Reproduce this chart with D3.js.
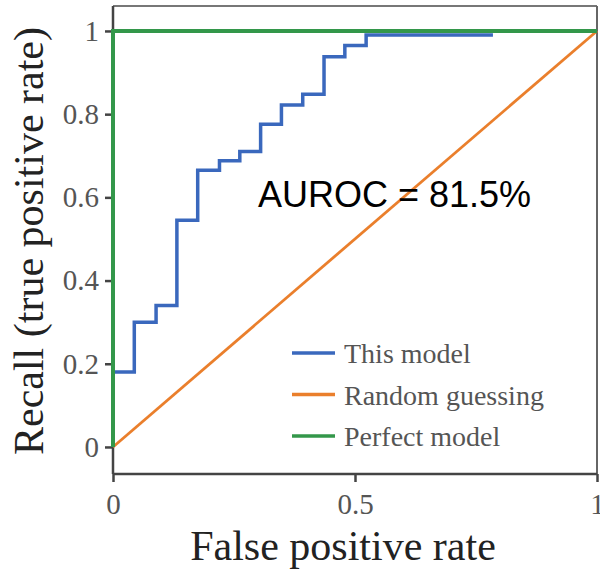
<!DOCTYPE html>
<html>
<head>
<meta charset="utf-8">
<script src="https://cdn.jsdelivr.net/npm/d3@7"></script>
<style>
  html, body { margin: 0; padding: 0; background: #fff; }
</style>
</head>
<body>
<div id="chart"></div>
<script>
// ROC curve (false positive rate, recall)
var modelFpr    = [0, 0,    0.044, 0.089, 0.132, 0.175, 0.220, 0.262, 0.305, 0.348, 0.392, 0.436, 0.479, 0.523, 0.785];
var modelTpr    = [0, 0.18, 0.30,  0.34,  0.545, 0.665, 0.688, 0.71,  0.776, 0.822, 0.848, 0.938, 0.965, 0.99,  0.99];
var randomFpr   = [0, 1];
var randomTpr   = [0, 1];
var perfectFpr  = [0, 0, 1];
var perfectTpr  = [0, 1, 1];
var xTicks = [0, 0.5, 1];
var yTicks = [0, 0.2, 0.4, 0.6, 0.8, 1];
var seriesNames = ['This model', 'Random guessing', 'Perfect model'];
var aurocText = 'AUROC = 81.5%';

(function() {
    var width = 600, height = 574;
    var plotLeft = 113, plotRight = 597, plotTop = 6, plotBottom = 474;
    var colors = ['#3a68bd', '#ea7f2c', '#33974a'];
    var serif = '"Liberation Serif", "DejaVu Serif", serif';

    var svg = d3.select('#chart')
        .append('svg')
        .attr('width', width)
        .attr('height', height);

    var x = d3.scaleLinear().domain([0, 1]).range([plotLeft, plotRight]);
    var y = d3.scaleLinear().domain([-0.065, 1.06]).range([plotBottom, plotTop]);

    // frame: top/right lighter, axes darker
    svg.append('line').attr('x1', plotLeft).attr('x2', plotRight).attr('y1', plotTop).attr('y2', plotTop)
        .attr('stroke', '#777').attr('stroke-width', 2);
    svg.append('line').attr('x1', plotRight).attr('x2', plotRight).attr('y1', plotTop).attr('y2', plotBottom)
        .attr('stroke', '#666').attr('stroke-width', 2);

    // axes
    var yAxis = svg.append('g')
        .attr('transform', 'translate(' + plotLeft + ',0)')
        .call(d3.axisLeft(y).tickValues(yTicks).tickSize(8).tickPadding(6)
            .tickFormat(function(d) { return String(d); }));
    var xAxis = svg.append('g')
        .attr('transform', 'translate(0,' + plotBottom + ')')
        .call(d3.axisBottom(x).tickValues(xTicks).tickSize(8).tickPadding(11)
            .tickFormat(function(d) { return String(d); }));

    [xAxis, yAxis].forEach(function(ax) {
        ax.select('.domain').attr('stroke', '#444').attr('stroke-width', 2.5);
        ax.selectAll('.tick line').attr('stroke', '#444').attr('stroke-width', 2.5);
        ax.selectAll('.tick text')
            .attr('fill', '#555')
            .style('font-family', serif)
            .style('font-size', '29px');
    });
    yAxis.select('.domain').attr('d', 'M0,' + plotTop + 'V' + plotBottom);
    xAxis.select('.domain').attr('d', 'M' + plotLeft + ',0H' + plotRight);

    // curves
    var line = d3.line()
        .x(function(d) { return x(d[0]); })
        .y(function(d) { return y(d[1]); });

    var modelPts = modelFpr.map(function(v, i) { return [v, modelTpr[i]]; });
    var randomPts = randomFpr.map(function(v, i) { return [v, randomTpr[i]]; });
    var perfectPts = perfectFpr.map(function(v, i) { return [v, perfectTpr[i]]; });

    svg.append('path')
        .attr('d', line.curve(d3.curveStepAfter)(modelPts))
        .attr('fill', 'none').attr('stroke', colors[0]).attr('stroke-width', 3.5);
    svg.append('path')
        .attr('d', line.curve(d3.curveLinear)(randomPts))
        .attr('fill', 'none').attr('stroke', colors[1]).attr('stroke-width', 2.8);
    svg.append('path')
        .attr('d', line.curve(d3.curveLinear)(perfectPts))
        .attr('fill', 'none').attr('stroke', colors[2]).attr('stroke-width', 4);

    // annotation
    svg.append('text')
        .attr('x', 258).attr('y', 207)
        .style('font-family', '"Liberation Sans", Arial, sans-serif')
        .style('font-size', '36px')
        .attr('fill', '#000')
        .text(aurocText);

    // legend
    var legend = svg.append('g').attr('class', 'legend');
    var entry = legend.selectAll('g')
        .data(seriesNames)
        .enter()
        .append('g')
        .attr('transform', function(d, i) { return 'translate(292,' + (353 + i * 41.5) + ')'; });
    entry.append('line')
        .attr('x1', 0).attr('x2', 43)
        .attr('stroke', function(d, i) { return colors[i]; })
        .attr('stroke-width', 3.5);
    entry.append('text')
        .attr('x', 52).attr('y', 10)
        .attr('fill', '#555')
        .style('font-family', serif)
        .style('font-size', '28px')
        .text(function(d) { return d; });

    // axis titles
    svg.append('text')
        .attr('x', (plotLeft + plotRight) / 2 - 12).attr('y', 560)
        .attr('text-anchor', 'middle')
        .attr('fill', '#222')
        .style('font-family', serif)
        .style('font-size', '42px')
        .text('False positive rate');
    svg.append('text')
        .attr('transform', 'translate(43,241) rotate(-90)')
        .attr('text-anchor', 'middle')
        .attr('fill', '#222')
        .style('font-family', serif)
        .style('font-size', '42px')
        .text('Recall (true positive rate)');
})();
</script>
</body>
</html>
